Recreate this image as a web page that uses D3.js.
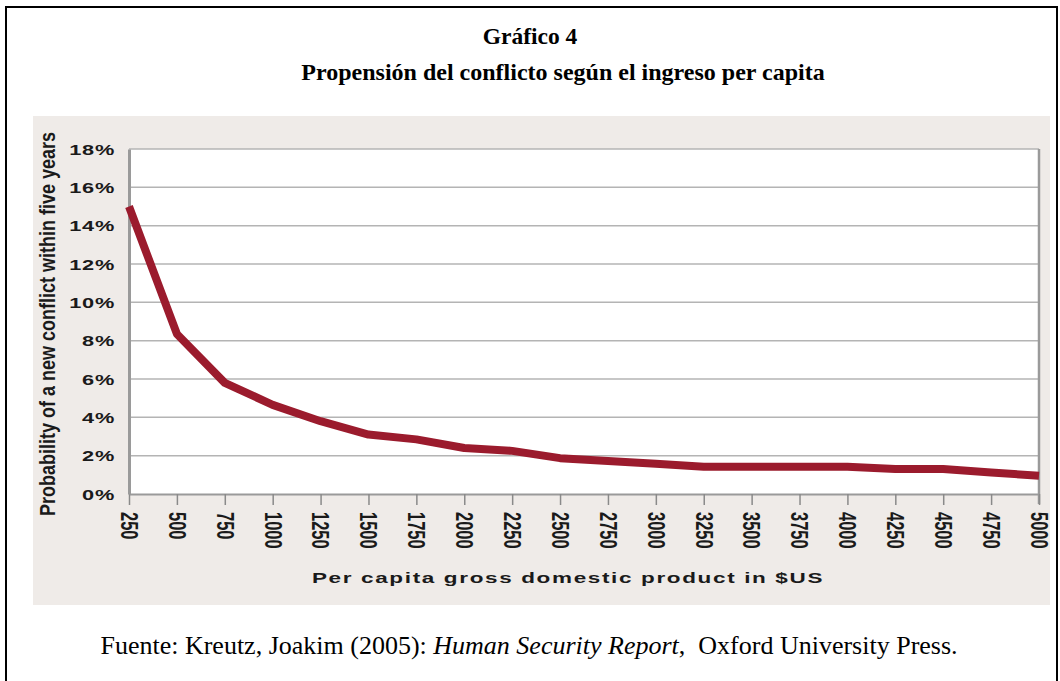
<!DOCTYPE html>
<meta charset="utf-8">
<head>
    <script src="https://d3js.org/d3.v7.min.js"></script>
    <style>
        body { margin: 0; background: #fff; }
        .tick text { font-family: "Liberation Sans", Arial, sans-serif; font-weight: bold; fill: #1a1a1a; }
    </style>
</head>
<body>
    <div id="graph"></div>
</body>

<script>
    // data
    var gdp = [250, 500, 750, 1000, 1250, 1500, 1750, 2000, 2250, 2500,
               2750, 3000, 3250, 3500, 3750, 4000, 4250, 4500, 4750, 5000];
    var prob = [15.0, 8.35, 5.8, 4.65, 3.8, 3.1, 2.85, 2.4, 2.25, 1.87,
                1.72, 1.58, 1.42, 1.42, 1.42, 1.42, 1.3, 1.3, 1.12, 0.95];
    var yTicks = [0, 2, 4, 6, 8, 10, 12, 14, 16, 18];
    var xTicks = gdp;

    var W = 1060, H = 681;
    var plot = {left: 129, right: 1039, top: 149, bottom: 494};
    var stretch = 1.5;   // the original chart is stretched sideways

    var svg = d3.select("#graph")
      .append("svg")
        .attr("width", W)
        .attr("height", H);

    // outer frame
    svg.append("rect")
        .attr("x", 6).attr("y", 7)
        .attr("width", 1051).attr("height", 700)
        .attr("fill", "none")
        .attr("stroke", "#000")
        .attr("stroke-width", 2);

    // titles
    svg.append("text")
        .attr("x", 530).attr("y", 44)
        .attr("text-anchor", "middle")
        .style("font", "bold 23.5px 'Liberation Serif', 'Times New Roman', serif")
        .text("Gráfico 4");
    svg.append("text")
        .attr("x", 563).attr("y", 80)
        .attr("text-anchor", "middle")
        .style("font", "bold 24px 'Liberation Serif', 'Times New Roman', serif")
        .text("Propensión del conflicto según el ingreso per capita");

    // grey panel behind the chart
    svg.append("rect")
        .attr("x", 33).attr("y", 116)
        .attr("width", 1017).attr("height", 489)
        .attr("fill", "#efebe8");

    var x = d3.scaleLinear()
        .domain([250, 5000])
        .range([plot.left, plot.right]);
    var y = d3.scaleLinear()
        .domain([0, 18])
        .range([plot.bottom, plot.top]);

    // plot background
    svg.append("rect")
        .attr("x", plot.left).attr("y", plot.top)
        .attr("width", plot.right - plot.left)
        .attr("height", plot.bottom - plot.top)
        .attr("fill", "#fff");

    // horizontal grid
    svg.append("g")
        .selectAll("line")
        .data(yTicks.slice(1))
        .enter()
        .append("line")
        .attr("x1", plot.left).attr("x2", plot.right)
        .attr("y1", function(d) { return y(d); })
        .attr("y2", function(d) { return y(d); })
        .attr("stroke", "#b4b4b4")
        .attr("stroke-width", 1.5);

    // right border
    svg.append("line")
        .attr("x1", plot.right).attr("x2", plot.right)
        .attr("y1", plot.top).attr("y2", plot.bottom + 10)
        .attr("stroke", "#9a9a9a")
        .attr("stroke-width", 2.5);

    // X axis
    var xAxis = svg.append("g")
        .attr("transform", "translate(0," + plot.bottom + ")")
        .call(d3.axisBottom(x).tickValues(xTicks).tickSize(11).tickSizeOuter(0).tickFormat(d3.format("d")));
    xAxis.select(".domain").attr("stroke", "#9a9a9a").attr("stroke-width", 2);
    xAxis.selectAll(".tick line").attr("stroke", "#8a8a8a").attr("stroke-width", 1.5);
    xAxis.selectAll(".tick text")
        .attr("x", 0).attr("y", 0).attr("dy", "0.35em")
        .attr("transform", "translate(0,18) scale(" + stretch + ",1) rotate(90)")
        .style("text-anchor", "start")
        .style("font-size", "16.5px");

    // Y axis
    var yAxis = svg.append("g")
        .attr("transform", "translate(" + plot.left + ",0)")
        .call(d3.axisLeft(y).tickValues(yTicks).tickSize(0).tickFormat(function(d) { return d + "%"; }));
    yAxis.select(".domain").attr("stroke", "#9a9a9a").attr("stroke-width", 3);
    yAxis.selectAll(".tick text")
        .attr("x", 0).attr("dy", "0.35em")
        .attr("transform", "translate(-14,0) scale(" + stretch + ",1)")
        .style("text-anchor", "end")
        .style("letter-spacing", "0.5px")
        .style("font-size", "14.5px");

    // axis labels
    svg.append("text")
        .attr("transform", "translate(568,583) scale(" + stretch + ",1)")
        .attr("text-anchor", "middle")
        .style("font", "bold 15px 'Liberation Sans', Arial, sans-serif")
        .style("letter-spacing", "1.1px")
        .attr("fill", "#1a1a1a")
        .text("Per capita gross domestic product in $US");
    svg.append("text")
        .attr("transform", "translate(47,324) scale(1.2,1) rotate(-90)")
        .attr("text-anchor", "middle")
        .attr("dy", "0.35em")
        .style("font", "bold 18px 'Liberation Sans Narrow', 'Liberation Sans', Arial, sans-serif")
        .attr("fill", "#1a1a1a")
        .text("Probability of a new conflict within five years");

    // the curve
    var line = d3.line()
        .x(function(d, i) { return x(gdp[i]); })
        .y(function(d) { return y(d); });
    svg.append("path")
        .datum(prob)
        .attr("d", line)
        .attr("fill", "none")
        .attr("stroke", "#9b1b2d")
        .attr("stroke-width", 8)
        .attr("stroke-linejoin", "round");

    // source note
    var src = svg.append("text")
        .attr("x", 529).attr("y", 654)
        .attr("text-anchor", "middle")
        .style("font", "26px 'Liberation Serif', 'Times New Roman', serif");
    src.append("tspan").text("Fuente: Kreutz, Joakim (2005): ");
    src.append("tspan").style("font-style", "italic").text("Human Security Report");
    src.append("tspan").attr("xml:space", "preserve").text(",  Oxford University Press.");
</script>
